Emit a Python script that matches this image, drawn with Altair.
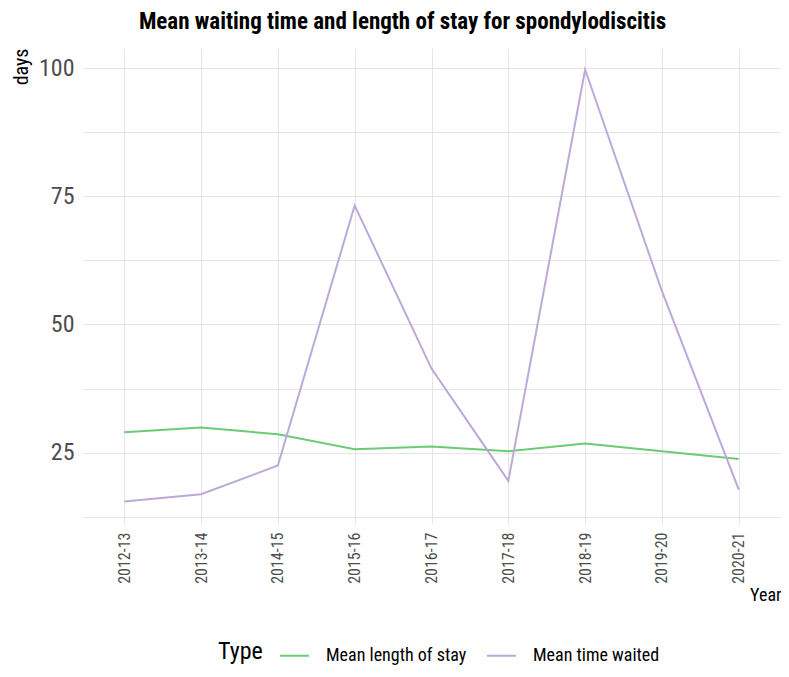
import altair as alt
import pandas as pd

years = ["2012-13", "2013-14", "2014-15", "2015-16", "2016-17",
         "2017-18", "2018-19", "2019-20", "2020-21"]
length_of_stay = [29.0, 29.9, 28.6, 25.7, 26.2, 25.3, 26.8, 25.3, 23.8]
time_waited = [15.5, 16.9, 22.5, 73.2, 41.4, 19.5, 99.7, 56.5, 17.8]
types = ["Mean length of stay", "Mean time waited"]
colors = ["#6CCB76", "#BCA9DA"]
y_grid = [12.5, 25, 37.5, 50, 62.5, 75, 87.5, 100]

rows = []
for yr, v in zip(years, length_of_stay):
    rows.append({"Year": yr, "days": v, "Type": types[0]})
for yr, v in zip(years, time_waited):
    rows.append({"Year": yr, "days": v, "Type": types[1]})
df = pd.DataFrame(rows)

FONT = "Liberation Sans Narrow, Arial Narrow, Roboto Condensed, Liberation Sans, sans-serif"

chart = alt.Chart(df).mark_line(strokeWidth=2).encode(
    x=alt.X("Year:O", sort=years,
            scale=alt.Scale(type="point", padding=0.55),
            axis=alt.Axis(title="Year", labelAngle=-90, labelFontSize=16,
                          labelColor="#4d4d4d", labelFont=FONT, labelPadding=9,
                          ticks=False, domain=False, grid=True,
                          gridColor="#e5e5e5", gridWidth=1,
                          titleFont=FONT, titleFontSize=18, titleFontWeight="normal",
                          titleColor="#000000", titleX=699, titleY=77,
                          titleAlign="right", titleBaseline="alphabetic")),
    y=alt.Y("days:Q",
            scale=alt.Scale(domain=[11.3, 103.9], nice=False, zero=False),
            axis=alt.Axis(title="days", values=y_grid,
                          labelExpr="datum.value % 25 == 0 ? datum.label : ''",
                          labelFontSize=24, labelColor="#4d4d4d", labelFont=FONT,
                          labelPadding=8, ticks=False, domain=False, grid=True,
                          gridColor="#e5e5e5", gridWidth=1,
                          titleFont=FONT, titleFontSize=20, titleFontWeight="normal",
                          titleColor="#000000", titleAngle=-90, titleX=-55, titleY=0,
                          titleAlign="right", titleBaseline="alphabetic")),
    color=alt.Color("Type:N",
                    scale=alt.Scale(domain=types, range=colors),
                    legend=alt.Legend(orient="none", direction="horizontal",
                                      legendX=136, legendY=592,
                                      titleOrient="left", titleFontSize=24,
                                      titleFont=FONT, titleFontWeight="normal",
                                      titleColor="#000000", titlePadding=16,
                                      labelFont=FONT, labelFontSize=18,
                                      labelColor="#000000", labelOffset=16,
                                      columnPadding=16, symbolType="stroke",
                                      symbolSize=841, symbolStrokeWidth=2)),
).properties(
    width=699, height=475,
    autosize=alt.AutoSizeParams(type="none"),
    padding={"left": 74, "top": 40, "right": 0, "bottom": 146},
    title=alt.Title("Mean waiting time and length of stay for spondylodiscitis",
                    font=FONT, fontSize=23, fontWeight="bold", color="#000000",
                    anchor="middle", frame="group", dx=-29, offset=14),
).configure_view(stroke=None)

chart.save("out.html", embed_options={"renderer": "svg", "actions": False})
